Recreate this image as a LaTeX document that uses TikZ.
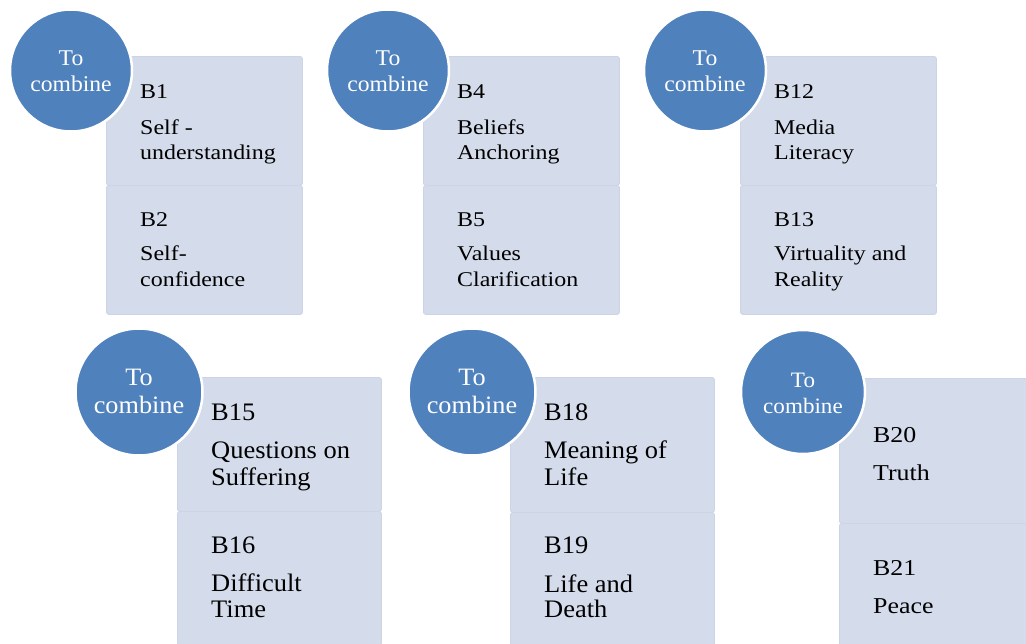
\documentclass[tikz,border=0pt]{standalone}
\usepackage{fontspec}
\setmainfont{Liberation Serif}
\newfontfamily\wideA[FakeStretch=1.14]{Liberation Serif}
\newfontfamily\wideB[FakeStretch=1.05]{Liberation Serif}
\definecolor{bubble}{HTML}{4F81BD}
\definecolor{boxfill}{HTML}{D4DBEA}
\definecolor{boxline}{HTML}{CDD4E5}
\tikzset{
  half/.style={fill=boxfill, draw=boxline, line width=0.9pt, rounded corners=2.5pt,
    anchor=north west, inner sep=0pt},
  bub/.style={circle, fill=bubble, draw=white, line width=2.5pt, inner sep=0pt},
  ctxt/.style={anchor=base, inner sep=0pt, text=white},
  ctA/.style={ctxt, font=\wideB\fontsize{22.5}{26}\selectfont},
  ctB/.style={ctxt, font=\wideB\fontsize{25}{28}\selectfont},
  ctC/.style={ctxt, font=\wideB\fontsize{22}{26}\selectfont},
  btxt/.style={anchor=base west, inner sep=0pt, text=black},
  tA/.style={btxt, font=\wideA\fontsize{21}{25}\selectfont},
  tB/.style={btxt, font=\wideB\fontsize{25.2}{27}\selectfont},
  tC/.style={btxt, font=\wideA\fontsize{22.7}{26}\selectfont},
}
\begin{document}
\begin{tikzpicture}[x=1pt,y=-1pt]
\path[use as bounding box] (0,0) rectangle (1026,643);
\clip (0,0) rectangle (1026,643);

% ---------- Row 1 ----------
% Group 1
\node[half, minimum width=196pt, minimum height=129pt] (g1a) at (106,56) {};
\node[half, minimum width=196pt, minimum height=129pt] (g1b) at (106,185) {};
\node[bub, minimum size=122pt] (c1) at (71,70.5) {};
\node[ctA] (c1l1) at (71,65.5) {To};
\node[ctA] (c1l2) at (71,91) {combine};
\node[tA] (g1a1) at (140,98) {B1};
\node[tA] (g1a2) at (140,134) {Self -};
\node[tA] (g1a3) at (140,159) {understanding};
\node[tA] (g1b1) at (140,226) {B2};
\node[tA] (g1b2) at (140,260) {Self-};
\node[tA] (g1b3) at (140,286) {confidence};

% Group 2
\node[half, minimum width=196pt, minimum height=129pt] (g2a) at (423,56) {};
\node[half, minimum width=196pt, minimum height=129pt] (g2b) at (423,185) {};
\node[bub, minimum size=122pt] (c2) at (388,70.5) {};
\node[ctA] (c2l1) at (388,65.5) {To};
\node[ctA] (c2l2) at (388,91) {combine};
\node[tA] (g2a1) at (457,98) {B4};
\node[tA] (g2a2) at (457,134) {Beliefs};
\node[tA] (g2a3) at (457,159) {Anchoring};
\node[tA] (g2b1) at (457,226) {B5};
\node[tA] (g2b2) at (457,260) {Values};
\node[tA] (g2b3) at (457,286) {Clarification};

% Group 3
\node[half, minimum width=196pt, minimum height=129pt] (g3a) at (740,56) {};
\node[half, minimum width=196pt, minimum height=129pt] (g3b) at (740,185) {};
\node[bub, minimum size=122pt] (c3) at (705,70.5) {};
\node[ctA] (c3l1) at (705,65.5) {To};
\node[ctA] (c3l2) at (705,91) {combine};
\node[tA] (g3a1) at (774,98) {B12};
\node[tA] (g3a2) at (774,134) {Media};
\node[tA] (g3a3) at (774,159) {Literacy};
\node[tA] (g3b1) at (774,226) {B13};
\node[tA] (g3b2) at (774,260) {Virtuality and};
\node[tA] (g3b3) at (774,286) {Reality};

% ---------- Row 2 ----------
% Group 4
\node[half, minimum width=204pt, minimum height=134pt] (g4a) at (177,377) {};
\node[half, minimum width=204pt, minimum height=134pt] (g4b) at (177,511) {};
\node[bub, minimum size=127pt] (c4) at (139,392) {};
\node[ctB] (c4l1) at (139,385) {To};
\node[ctB] (c4l2) at (139,413) {combine};
\node[tB] (g4a1) at (211,420) {B15};
\node[tB] (g4a2) at (211,458) {Questions on};
\node[tB] (g4a3) at (211,485) {Suffering};
\node[tB] (g4b1) at (211,553) {B16};
\node[tB] (g4b2) at (211,591) {Difficult};
\node[tB] (g4b3) at (211,617) {Time};

% Group 5
\node[half, minimum width=204pt, minimum height=135pt] (g5a) at (510,377) {};
\node[half, minimum width=204pt, minimum height=135pt] (g5b) at (510,512) {};
\node[bub, minimum size=127pt] (c5) at (472,392) {};
\node[ctB] (c5l1) at (472,385) {To};
\node[ctB] (c5l2) at (472,413) {combine};
\node[tB] (g5a1) at (544,420) {B18};
\node[tB] (g5a2) at (544,458) {Meaning of};
\node[tB] (g5a3) at (544,485) {Life};
\node[tB] (g5b1) at (544,553) {B19};
\node[tB] (g5b2) at (544,592) {Life and};
\node[tB] (g5b3) at (544,617) {Death};

% Group 6
\node[half, minimum width=204pt, minimum height=145pt] (g6a) at (839,378) {};
\node[half, minimum width=204pt, minimum height=145pt] (g6b) at (839,523) {};
\node[bub, minimum size=124pt] (c6) at (803,392) {};
\node[ctC] (c6l1) at (803,387) {To};
\node[ctC] (c6l2) at (803,413) {combine};
\node[tC] (g6a1) at (873,442) {B20};
\node[tC] (g6a2) at (873,480) {Truth};
\node[tC] (g6b1) at (873,575) {B21};
\node[tC] (g6b2) at (873,613) {Peace};
\end{tikzpicture}
\end{document}
